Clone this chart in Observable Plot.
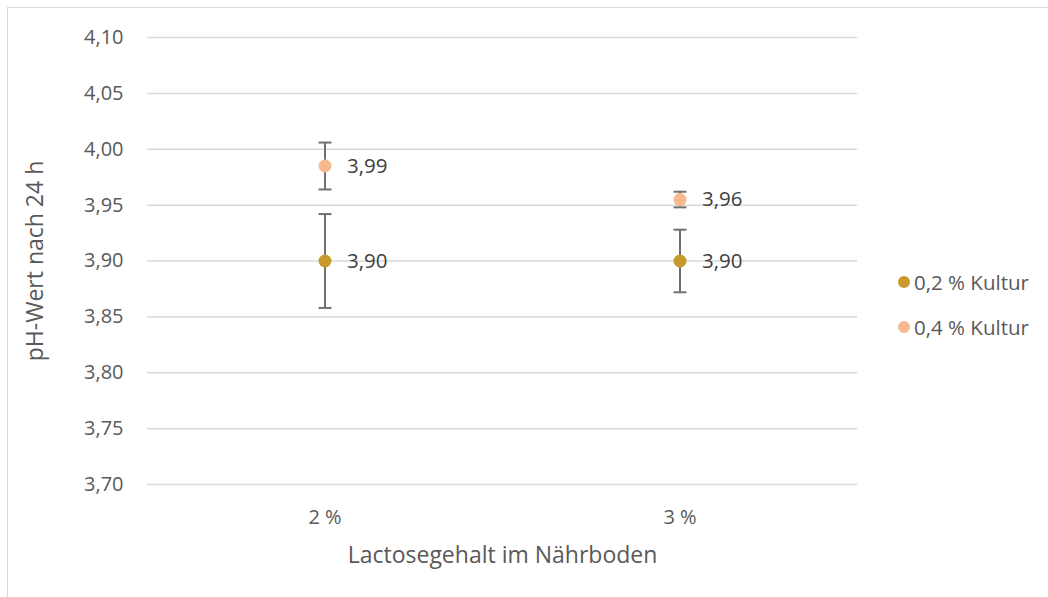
<!DOCTYPE html>
<html>
<head>
<meta charset="utf-8">
<script src="https://cdn.jsdelivr.net/npm/d3@7"></script>
<script src="https://cdn.jsdelivr.net/npm/@observablehq/plot@0.6"></script>
<style>
  html, body { margin: 0; padding: 0; background: #fff; }
  #wrap { position: relative; width: 1048px; height: 597px; overflow: hidden; font-family: "Open Sans", sans-serif; }
  #border { position: absolute; left: 7px; top: 7px; width: 1100px; height: 700px; border: 1.5px solid #d9d9d9; box-sizing: border-box; pointer-events: none; }
  #legend { position: absolute; left: 898px; top: 267px; font-size: 20.5px; color: #595959; }
  #legend .item { display: flex; align-items: center; height: 30px; margin-bottom: 15px; }
  #legend .sw { width: 12px; height: 12px; border-radius: 50%; margin-right: 4px; }
</style>
</head>
<body>
<div id="wrap"><div id="border"></div><div id="legend"></div></div>
<script>
const categories = ["2 %", "3 %"];
const seriesNames = ["0,2 % Kultur", "0,4 % Kultur"];
const seriesColors = ["#C8992B", "#F8B98E"];
const mean02 = [3.900, 3.900];
const low02 = [3.858, 3.872];
const high02 = [3.942, 3.928];
const label02 = ["3,90", "3,90"];
const mean04 = [3.985, 3.955];
const low04 = [3.964, 3.948];
const high04 = [4.006, 3.962];
const label04 = ["3,99", "3,96"];
const yTicks = [3.70, 3.75, 3.80, 3.85, 3.90, 3.95, 4.00, 4.05, 4.10];

const rows = [];
categories.forEach((c, i) => {
  rows.push({cat: c, series: seriesNames[0], v: mean02[i], lo: low02[i], hi: high02[i], label: label02[i]});
  rows.push({cat: c, series: seriesNames[1], v: mean04[i], lo: low04[i], hi: high04[i], label: label04[i]});
});
const caps = rows.flatMap(d => [{cat: d.cat, y: d.lo}, {cat: d.cat, y: d.hi}]);

const capSymbol = {
  draw(ctx, size) {
    const w = 6.5;
    ctx.moveTo(-w, 0);
    ctx.lineTo(w, 0);
  }
};

const fmt = d => d.toFixed(2).replace(".", ",");

const chart = Plot.plot({
  width: 1048,
  height: 597,
  marginLeft: 147,
  marginRight: 191,
  marginTop: 37,
  marginBottom: 113,
  style: {fontFamily: "Open Sans, sans-serif", fontSize: "20px", color: "#595959", background: "transparent"},
  x: {type: "band", domain: categories, padding: 0, label: null},
  y: {domain: [3.70, 4.10], label: null},
  color: {domain: seriesNames, range: seriesColors},
  marks: [
    Plot.gridY(yTicks, {stroke: "#d9d9d9", strokeOpacity: 1, strokeWidth: 1.5}),
    Plot.axisY(yTicks, {tickSize: 0, tickPadding: 24, tickFormat: fmt, fill: "#595959", fontSize: 20}),
    Plot.axisX({tickSize: 0, tickPadding: 25, fill: "#595959", fontSize: 20, label: null}),
    Plot.text(["pH-Wert nach 24 h"], {frameAnchor: "left", dx: -112, rotate: -90, fill: "#595959", fontSize: 23, textAnchor: "middle", lineAnchor: "middle"}),
    Plot.text(["Lactosegehalt im Nährboden"], {frameAnchor: "bottom", dy: 71, fill: "#595959", fontSize: 23, textAnchor: "middle", lineAnchor: "middle"}),
    Plot.ruleX(rows, {x: "cat", y1: "lo", y2: "hi", stroke: "#707070", strokeWidth: 2}),
    Plot.dot(caps, {x: "cat", y: "y", symbol: capSymbol, r: 6, stroke: "#707070", strokeWidth: 2}),
    Plot.dot(rows, {x: "cat", y: "v", r: 6.5, fill: "series", stroke: null}),
    Plot.text(rows, {x: "cat", y: "v", text: "label", textAnchor: "start", dx: 22, fill: "#404040", fontSize: 20.5})
  ]
});
chart.style.position = "absolute";
chart.style.left = "0px";
chart.style.top = "0px";
document.getElementById("wrap").appendChild(chart);

const legend = document.getElementById("legend");
seriesNames.forEach((n, i) => {
  const it = document.createElement("div");
  it.className = "item";
  const sw = document.createElement("span");
  sw.className = "sw";
  sw.style.background = seriesColors[i];
  const t = document.createElement("span");
  t.textContent = n;
  it.appendChild(sw); it.appendChild(t);
  legend.appendChild(it);
});
</script>
</body>
</html>
